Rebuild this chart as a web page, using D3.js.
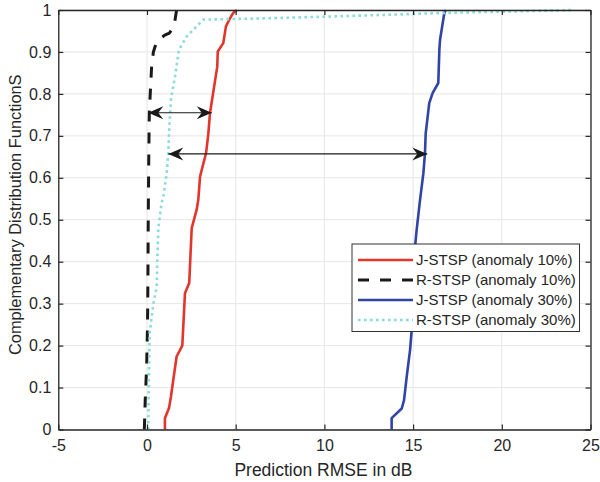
<!DOCTYPE html>
<html>
<head>
<meta charset="utf-8">
<script src="https://cdn.jsdelivr.net/npm/d3@7"></script>
<style>
	body { margin: 0; background: #fff; }
	svg text { font-family: "Liberation Sans", Arial, sans-serif; fill: #262626; }
</style>
</head>
<body>
<svg id="chart" width="600" height="482"></svg>
<script>
'use strict';

// series values: [rmse, ccdf]
var jStsp10 = [[1.01,0],[1.01,0.027],[1.24,0.051],[1.35,0.078],[1.48,0.118],[1.67,0.174],[1.99,0.2],
	[2.14,0.325],[2.38,0.349],[2.52,0.48],[2.8,0.524],[2.89,0.547],[2.99,0.603],[3.33,0.659],
	[3.46,0.706],[3.55,0.754],[3.96,0.865],[3.99,0.901],[4.3,0.921],[4.45,0.961],[4.64,0.977],
	[4.86,0.993],[5.06,1]];
var rStsp10 = [[-0.15,0],[-0.1,0.07],[-0.02,0.15],[0.03,0.25],[0.05,0.35],[0.07,0.5],[0.1,0.65],
	[0.13,0.755],[0.17,0.79],[0.26,0.865],[0.36,0.9],[0.55,0.925],[1.0,0.94],[1.26,0.945],
	[1.52,0.96],[1.63,0.99],[1.67,1]];
var jStsp30 = [[13.79,0],[13.79,0.027],[14.36,0.05],[14.49,0.07],[14.64,0.126],[14.83,0.19],
	[14.92,0.237],[15.01,0.317],[15.11,0.436],[15.2,0.476],[15.39,0.547],[15.58,0.611],
	[15.67,0.659],[15.71,0.706],[15.91,0.778],[16.1,0.802],[16.42,0.826],[16.48,0.905],
	[16.52,0.929],[16.67,0.969],[16.76,0.993],[16.84,1]];
var rStsp30 = [[0.07,0],[0.1,0.1],[0.15,0.23],[0.36,0.3],[0.55,0.34],[0.58,0.4],[0.64,0.48],
	[0.79,0.53],[0.86,0.547],[0.92,0.555],[1.11,0.611],[1.2,0.659],[1.26,0.722],[1.35,0.786],
	[1.58,0.842],[1.8,0.905],[2.24,0.937],[2.8,0.961],[3.17,0.977],[7.5,0.981],[13.1,0.988],
	[16.7,0.993],[20,0.996],[24,1]];

var seriesNames = ["J-STSP (anomaly 10%)", "R-STSP (anomaly 10%)", "J-STSP (anomaly 30%)", "R-STSP (anomaly 30%)"];
var xTicks = [-5, 0, 5, 10, 15, 20, 25];
var yTicks = [0, 0.1, 0.2, 0.3, 0.4, 0.5, 0.6, 0.7, 0.8, 0.9, 1];
// double arrows: [x1, x2, y]
var arrowsData = [[0.07, 3.65, 0.755], [1.2, 15.8, 0.657]];

var series = [
	{name: seriesNames[0], values: jStsp10, color: "#e2352b", width: 2.6, dash: null},
	{name: seriesNames[1], values: rStsp10, color: "#1a1a1a", width: 3, dash: "11,11"},
	{name: seriesNames[2], values: jStsp30, color: "#2f44a6", width: 2.6, dash: null},
	{name: seriesNames[3], values: rStsp30, color: "#8bdcd7", width: 2.6, dash: "2.6,3.4"}
];

var svg = d3.select("#chart");
var margin = {top: 10, right: 9.5, bottom: 52.5, left: 58.3};
var width = 600 - margin.left - margin.right;
var height = 482 - margin.top - margin.bottom;
var g = svg.append("g").attr("transform", "translate(" + margin.left + "," + margin.top + ")");

var x = d3.scaleLinear().domain([-5, 25]).range([0, width]);
var y = d3.scaleLinear().domain([0, 1]).range([height, 0]);

// grid
g.append("g").selectAll("line").data(xTicks).enter().append("line")
	.attr("x1", d => x(d)).attr("x2", d => x(d))
	.attr("y1", 0).attr("y2", height)
	.attr("stroke", "#e6e6e6").attr("stroke-width", 1);
g.append("g").selectAll("line").data(yTicks).enter().append("line")
	.attr("y1", d => y(d)).attr("y2", d => y(d))
	.attr("x1", 0).attr("x2", width)
	.attr("stroke", "#e6e6e6").attr("stroke-width", 1);

// curves
var line = d3.line().x(d => x(d[0])).y(d => y(d[1]));
g.append("g").selectAll("path").data(series).enter().append("path")
	.attr("d", d => line(d.values))
	.attr("fill", "none")
	.attr("stroke", d => d.color)
	.attr("stroke-width", d => d.width)
	.attr("stroke-dasharray", d => d.dash)
	.attr("stroke-linejoin", "round");

// axes (ticks inward, box on)
function styleAxis(sel) {
	sel.select(".domain").attr("stroke", "#262626").attr("stroke-width", 1.3);
	sel.selectAll(".tick line").attr("stroke", "#262626").attr("stroke-width", 1.2);
	sel.selectAll(".tick text").style("font-size", "16px");
}
var plain = d => String(d);
g.append("g").attr("transform", "translate(0," + height + ")")
	.call(d3.axisBottom(x).tickValues(xTicks).tickFormat(plain).tickSize(-5).tickSizeOuter(0).tickPadding(10))
	.call(styleAxis);
g.append("g")
	.call(d3.axisLeft(y).tickValues(yTicks).tickFormat(plain).tickSize(-5).tickSizeOuter(0).tickPadding(7))
	.call(styleAxis);
g.append("g")
	.call(d3.axisTop(x).tickValues(xTicks).tickSize(-5).tickSizeOuter(0).tickFormat(""))
	.call(styleAxis);
g.append("g").attr("transform", "translate(" + width + ",0)")
	.call(d3.axisRight(y).tickValues(yTicks).tickSize(-5).tickSizeOuter(0).tickFormat(""))
	.call(styleAxis);

// axis labels
svg.append("text")
	.attr("x", margin.left + width / 2 - 1).attr("y", 476)
	.attr("text-anchor", "middle").style("font-size", "17.5px")
	.text("Prediction RMSE in dB");
svg.append("text")
	.attr("transform", "translate(21," + (margin.top + height / 2 - 5) + ") rotate(-90)")
	.attr("text-anchor", "middle").style("font-size", "16.4px")
	.text("Complementary Distribution FunctionS");

// arrows
function arrowHead(px, py, dir) {
	// chevron-style head, dir = +1 points right, -1 points left
	var L = 15, W = 6.5, back = 5;
	return "M" + px + "," + py +
		"L" + (px - dir * L) + "," + (py - W) +
		"L" + (px - dir * (L - back)) + "," + py +
		"L" + (px - dir * L) + "," + (py + W) + "Z";
}
var arr = g.append("g").selectAll("g").data(arrowsData).enter().append("g");
arr.append("line")
	.attr("x1", d => x(d[0])).attr("x2", d => x(d[1]))
	.attr("y1", d => y(d[2])).attr("y2", d => y(d[2]))
	.attr("stroke", "#1a1a1a").attr("stroke-width", 1.1);
arr.append("path").attr("d", d => arrowHead(x(d[0]), y(d[2]), -1)).attr("fill", "#1a1a1a");
arr.append("path").attr("d", d => arrowHead(x(d[1]), y(d[2]), 1)).attr("fill", "#1a1a1a");

// legend
var lg = svg.append("g").attr("transform", "translate(352,244)");
lg.append("rect").attr("width", 227.5).attr("height", 87.5)
	.attr("fill", "#fff").attr("stroke", "#333").attr("stroke-width", 1);
var items = lg.selectAll("g.item").data(series).enter().append("g")
	.attr("class", "item")
	.attr("transform", (d, i) => "translate(0," + (16 + i * 20) + ")");
items.append("line")
	.attr("x1", 6).attr("x2", 61).attr("y1", 0).attr("y2", 0)
	.attr("stroke", d => d.color)
	.attr("stroke-width", d => d.width)
	.attr("stroke-dasharray", d => d.dash);
items.append("text")
	.attr("x", 64).attr("y", 0).attr("dy", "0.35em")
	.style("font-size", "15px")
	.text(d => d.name);
</script>
</body>
</html>
